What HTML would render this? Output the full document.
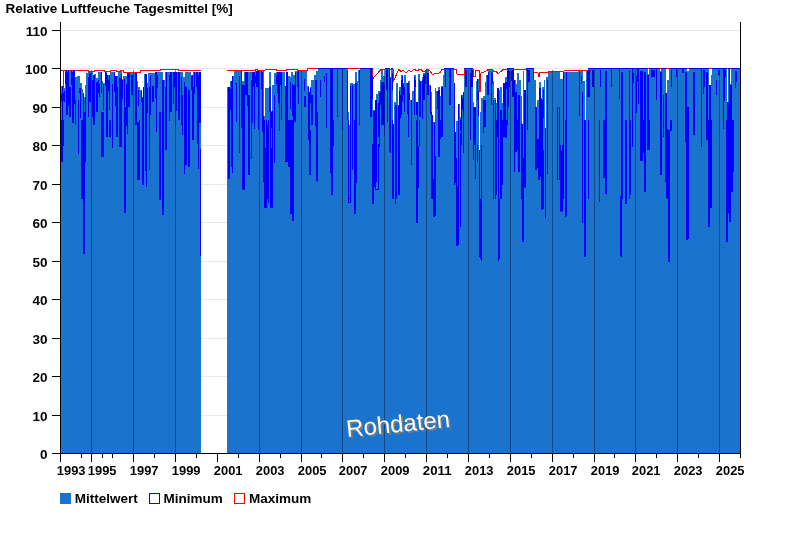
<!DOCTYPE html><html><head><meta charset="utf-8"><title>Relative Luftfeuche Tagesmittel</title>
<style>html,body{margin:0;padding:0;background:#fff}body{width:800px;height:550px;overflow:hidden}svg{display:block;will-change:transform}text{font-family:"Liberation Sans",Arial,sans-serif;font-weight:bold;font-size:13.5px;fill:#000}</style></head><body>
<svg width="800" height="550" viewBox="0 0 800 550">
<rect width="800" height="550" fill="#fff"/>
<line x1="61" x2="740" y1="415.5" y2="415.5" stroke="#e9e9e9" stroke-width="1"/>
<line x1="61" x2="740" y1="376.5" y2="376.5" stroke="#e9e9e9" stroke-width="1"/>
<line x1="61" x2="740" y1="338.5" y2="338.5" stroke="#e9e9e9" stroke-width="1"/>
<line x1="61" x2="740" y1="299.5" y2="299.5" stroke="#e9e9e9" stroke-width="1"/>
<line x1="61" x2="740" y1="261.5" y2="261.5" stroke="#e9e9e9" stroke-width="1"/>
<line x1="61" x2="740" y1="222.5" y2="222.5" stroke="#e9e9e9" stroke-width="1"/>
<line x1="61" x2="740" y1="184.5" y2="184.5" stroke="#e9e9e9" stroke-width="1"/>
<line x1="61" x2="740" y1="145.5" y2="145.5" stroke="#e9e9e9" stroke-width="1"/>
<line x1="61" x2="740" y1="107.5" y2="107.5" stroke="#e9e9e9" stroke-width="1"/>
<line x1="61" x2="740" y1="68.5" y2="68.5" stroke="#e9e9e9" stroke-width="1"/>
<line x1="61" x2="740" y1="30.5" y2="30.5" stroke="#e9e9e9" stroke-width="1"/>
<path d="M61 453V86H62V86H63V88H64V88H65V70H66V70H67V70H68V70H69V70H70V70H71V70H72V70H73V70H74V70H75V77H76V77H77V76H78V76H79V76H80V83H81V83H82V89H83V93H84V97H85V85H86V73H87V73H88V72H89V72H90V72H91V72H92V72H93V75H94V74H95V74H96V78H97V78H98V72H99V72H100V72H101V72H102V81H103V83H104V83H105V72H106V72H107V75H108V75H109V75H110V72H111V72H112V72H113V72H114V72H115V76H116V76H117V76H118V71H119V71H120V71H121V71H122V79H123V76H124V76H125V76H126V76H127V73H128V73H129V73H130V73H131V73H132V73H133V73H134V73H135V73H136V73H137V81H138V87H139V87H140V90H141V90H142V97H143V87H144V74H145V74H146V74H147V83H148V73H149V73H150V73H151V73H152V73H153V73H154V73H155V72H156V72H157V72H158V72H159V72H160V72H161V72H162V72H163V80H164V80H165V72H166V72H167V72H168V72H169V72H170V72H171V72H172V72H173V72H174V72H175V72H176V72H177V72H178V72H179V72H180V72H181V72H182V72H183V77H184V77H185V72H186V72H187V72H188V72H189V72H190V72H191V75H192V75H193V72H194V72H195V72H196V72H197V72H198V72H199V72H200V72H201V453Z" fill="#1a74ce" shape-rendering="crispEdges"/>
<path d="M227 453V87H228V87H229V87H230V81H231V81H232V76H233V76H234V71H235V71H236V71H237V71H238V71H239V71H240V71H241V71H242V81H243V81H244V72H245V72H246V72H247V72H248V72H249V72H250V72H251V72H252V72H253V72H254V72H255V71H256V71H257V71H258V71H259V71H260V71H261V71H262V71H263V71H264V116H265V88H266V88H267V88H268V88H269V72H270V72H271V111H272V85H273V85H274V73H275V73H276V72H277V72H278V72H279V72H280V72H281V72H282V72H283V72H284V72H285V86H286V72H287V72H288V76H289V76H290V77H291V72H292V72H293V75H294V75H295V71H296V71H297V71H298V71H299V71H300V71H301V71H302V71H303V71H304V71H305V71H306V71H307V86H308V86H309V92H310V87H311V80H312V80H313V80H314V75H315V75H316V71H317V71H318V68H319V68H320V68H321V68H322V68H323V68H324V68H325V68H326V68H327V68H328V68H329V68H330V68H331V68H332V68H333V68H334V68H335V68H336V68H337V68H338V68H339V68H340V68H341V68H342V68H343V68H344V68H345V68H346V68H347V68H348V112H349V125H350V83H351V83H352V83H353V84H354V84H355V72H356V72H357V81H358V70H359V70H360V68H361V68H362V68H363V68H364V68H365V68H366V68H367V68H368V68H369V68H370V68H371V68H372V68H373V110H374V110H375V100H376V94H377V94H378V91H379V91H380V80H381V70H382V70H383V76H384V76H385V68H386V68H387V68H388V68H389V68H390V77H391V68H392V68H393V124H394V102H395V102H396V83H397V83H398V105H399V87H400V87H401V75H402V75H403V83H404V75H405V75H406V83H407V83H408V81H409V81H410V100H411V100H412V91H413V91H414V75H415V75H416V102H417V102H418V74H419V74H420V81H421V81H422V77H423V73H424V73H425V70H426V70H427V70H428V70H429V85H430V85H431V92H432V115H433V122H434V122H435V88H436V91H437V91H438V87H439V87H440V96H441V86H442V86H443V75H444V68H445V68H446V68H447V68H448V68H449V68H450V68H451V68H452V68H453V68H454V83H455V132H456V121H457V121H458V104H459V104H460V117H461V95H462V95H463V92H464V68H465V68H466V68H467V68H468V68H469V68H470V68H471V68H472V68H473V102H474V107H475V107H476V81H477V79H478V79H479V150H480V112H481V98H482V98H483V96H484V96H485V82H486V75H487V75H488V70H489V70H490V70H491V70H492V70H493V81H494V98H495V98H496V103H497V88H498V88H499V90H500V87H501V87H502V103H503V83H504V83H505V77H506V77H507V68H508V68H509V68H510V68H511V68H512V68H513V68H514V80H515V80H516V84H517V73H518V73H519V80H520V80H521V96H522V124H523V71H524V90H525V90H526V68H527V68H528V68H529V68H530V68H531V68H532V68H533V68H534V80H535V80H536V107H537V100H538V100H539V82H540V82H541V98H542V87H543V87H544V80H545V128H546V77H547V77H548V72H549V72H550V71H551V71H552V71H553V71H554V71H555V71H556V71H557V71H558V71H559V71H560V79H561V79H562V79H563V72H564V72H565V72H566V72H567V72H568V72H569V72H570V72H571V72H572V72H573V72H574V72H575V72H576V72H577V72H578V71H579V71H580V71H581V71H582V71H583V81H584V81H585V120H586V71H587V71H588V68H589V68H590V68H591V68H592V68H593V68H594V68H595V68H596V68H597V68H598V68H599V68H600V68H601V68H602V68H603V68H604V68H605V68H606V68H607V68H608V68H609V68H610V68H611V68H612V68H613V68H614V68H615V68H616V68H617V68H618V68H619V68H620V68H621V68H622V68H623V68H624V68H625V68H626V68H627V68H628V68H629V68H630V68H631V68H632V68H633V68H634V68H635V68H636V68H637V68H638V68H639V68H640V68H641V68H642V68H643V68H644V68H645V68H646V68H647V68H648V74H649V68H650V68H651V68H652V68H653V68H654V68H655V68H656V68H657V68H658V68H659V68H660V71H661V68H662V68H663V68H664V68H665V68H666V93H667V80H668V80H669V68H670V68H671V68H672V68H673V68H674V68H675V68H676V68H677V68H678V68H679V68H680V68H681V68H682V68H683V68H684V68H685V68H686V68H687V71H688V71H689V68H690V68H691V68H692V68H693V68H694V68H695V68H696V68H697V68H698V68H699V68H700V68H701V68H702V68H703V68H704V68H705V68H706V68H707V68H708V68H709V85H710V85H711V75H712V68H713V68H714V68H715V68H716V68H717V68H718V68H719V68H720V68H721V68H722V68H723V68H724V68H725V68H726V68H727V102H728V68H729V68H730V84H731V68H732V68H733V68H734V68H735V68H736V68H737V68H738V68H739V68H740V453Z" fill="#1a74ce" shape-rendering="crispEdges"/>
<polyline points="61,70.5 63.5,70.5 63.5,88 63.5,70.5 65.5,70.5 65.5,78 65.5,70.5 88,70.5 88,71.5 94,71.5 94,70.5 104,70.5 104,71.5 110,71.5 110,70.5 116,70.5 116,71.5 120,71.5 120,70.5 123,70.5 123,72 140,72 140,70.5 160,70.5 160,69.5 178,69.5 178,70.5 201,70.5" fill="none" stroke="#ff0000" stroke-width="1" stroke-linejoin="miter" shape-rendering="crispEdges"/>
<polyline points="227,70.5 255,70.5 256,69.5 257,69.5 257,70.5 264,70.5 266,69.5 276,69.5 276,70.5 285,70.5 288,69.5 297,69.5 297,70.5 307,70.5 307,68.5 372.9,68.5 372.9,78.5 381.4,69 393,69 393,82 399,69 401,72 403,70 406,73 409,70 411,72 414,69 417,71 420,69 424,72 427,69 430,71 432.5,74.5 436,73 438,74 441,71.5 441.3,69.5 456.5,69.5 457,74 464,74 464,68.5 473,68.5 473.5,76 475,76 475,70 479.5,70 479.5,91.5 480.5,91.5 481,73 484,72 487.7,70 488,69.5 492.8,69.5 494,72 496,71 498,74 500,72 502.8,70 503,69.5 516,69.5 526,70 526,68.5 533.8,68.5 533.8,72.5 538,72.5 538.5,76.5 539.5,76.5 539.5,72.5 547.6,72.5 550,71 555,72 562.7,71.5 566,70.5 575,71 584,70 590,70.5 590,68.5 740,68.5" fill="none" stroke="#ff0000" stroke-width="1" stroke-linejoin="miter" shape-rendering="crispEdges"/>
<path d="M61 94h1v8h-1zM61 120h1v42h-1zM62 86h1v76h-1zM63 93h1v8h-1zM63 120h1v26h-1zM64 91h1v11h-1zM65 73h1v11h-1zM66 70h1v45h-1zM67 72h1v43h-1zM68 70h1v36h-1zM69 87h1v30h-1zM70 87h1v30h-1zM71 71h1v14h-1zM72 72h1v51h-1zM73 70h1v53h-1zM74 70h1v34h-1zM75 100h1v25h-1zM78 100h1v54h-1zM79 88h1v5h-1zM80 88h1v30h-1zM81 120h1v79h-1zM82 120h1v79h-1zM83 93h1v161h-1zM84 112h1v142h-1zM85 97h1v65h-1zM88 77h1v40h-1zM89 73h1v29h-1zM90 73h1v29h-1zM92 80h1v37h-1zM93 75h1v50h-1zM94 75h1v50h-1zM96 82h1v30h-1zM97 82h1v30h-1zM98 80h1v13h-1zM99 84h1v13h-1zM101 72h1v21h-1zM101 112h1v45h-1zM102 112h1v45h-1zM103 84h1v26h-1zM103 112h1v45h-1zM105 72h1v14h-1zM106 73h1v64h-1zM107 75h1v62h-1zM108 80h1v11h-1zM109 75h1v35h-1zM109 120h1v17h-1zM110 120h1v17h-1zM112 84h1v64h-1zM114 72h1v20h-1zM115 76h1v30h-1zM116 76h1v61h-1zM117 87h1v50h-1zM119 78h1v69h-1zM120 78h1v69h-1zM121 74h1v73h-1zM122 80h1v19h-1zM124 79h1v27h-1zM124 107h1v106h-1zM125 107h1v106h-1zM126 84h1v42h-1zM127 73h1v61h-1zM128 73h1v34h-1zM129 73h1v34h-1zM131 75h1v20h-1zM132 75h1v20h-1zM135 73h1v52h-1zM136 73h1v52h-1zM137 122h1v58h-1zM138 90h1v16h-1zM138 122h1v58h-1zM139 120h1v60h-1zM141 91h1v11h-1zM142 97h1v88h-1zM143 87h1v98h-1zM145 74h1v97h-1zM146 74h1v113h-1zM147 88h1v25h-1zM149 87h1v83h-1zM150 76h1v39h-1zM152 86h1v16h-1zM153 86h1v16h-1zM155 72h1v26h-1zM156 72h1v60h-1zM157 75h1v13h-1zM159 112h1v88h-1zM160 112h1v88h-1zM162 80h1v135h-1zM163 80h1v135h-1zM165 87h1v63h-1zM166 72h1v78h-1zM169 75h1v46h-1zM170 72h1v40h-1zM171 72h1v40h-1zM173 72h1v32h-1zM174 72h1v15h-1zM175 72h1v56h-1zM176 72h1v39h-1zM178 72h1v48h-1zM179 72h1v48h-1zM181 77h1v48h-1zM182 95h1v40h-1zM184 82h1v92h-1zM185 87h1v78h-1zM186 87h1v78h-1zM188 90h1v77h-1zM189 90h1v77h-1zM191 76h1v14h-1zM192 75h1v65h-1zM193 87h1v53h-1zM194 72h1v22h-1zM196 72h1v15h-1zM197 72h1v72h-1zM198 75h1v94h-1zM199 72h1v51h-1zM200 72h1v51h-1zM200 149h1v107h-1zM228 87h1v92h-1zM229 87h1v92h-1zM230 89h1v21h-1zM231 81h1v86h-1zM232 76h1v97h-1zM235 83h1v1h-1zM236 83h1v39h-1zM239 76h1v77h-1zM241 71h1v57h-1zM242 85h1v104h-1zM243 85h1v105h-1zM244 85h1v105h-1zM245 72h1v23h-1zM246 72h1v23h-1zM247 72h1v34h-1zM248 95h1v80h-1zM249 95h1v80h-1zM251 80h1v79h-1zM252 72h1v51h-1zM253 72h1v15h-1zM254 72h1v57h-1zM255 76h1v7h-1zM256 71h1v16h-1zM257 71h1v16h-1zM258 71h1v59h-1zM261 71h1v18h-1zM262 72h1v60h-1zM263 116h1v66h-1zM264 120h1v88h-1zM265 148h1v60h-1zM266 120h1v88h-1zM267 125h1v74h-1zM268 120h1v83h-1zM269 87h1v25h-1zM270 87h1v121h-1zM271 112h1v16h-1zM271 148h1v60h-1zM272 111h1v97h-1zM274 95h1v68h-1zM276 75h1v9h-1zM277 72h1v21h-1zM278 72h1v31h-1zM279 72h1v59h-1zM280 72h1v13h-1zM281 72h1v48h-1zM285 86h1v76h-1zM286 72h1v90h-1zM287 72h1v90h-1zM288 120h1v47h-1zM289 120h1v47h-1zM290 82h1v27h-1zM290 120h1v94h-1zM291 120h1v94h-1zM292 84h1v32h-1zM292 120h1v101h-1zM293 85h1v136h-1zM294 85h1v37h-1zM295 72h1v50h-1zM297 72h1v15h-1zM298 71h1v33h-1zM304 79h1v12h-1zM304 96h1v11h-1zM305 96h1v11h-1zM308 87h1v53h-1zM309 92h1v83h-1zM310 88h1v15h-1zM310 130h1v45h-1zM311 95h1v30h-1zM312 95h1v30h-1zM315 80h1v46h-1zM316 80h1v101h-1zM317 112h1v70h-1zM320 80h1v17h-1zM324 76h1v6h-1zM326 73h1v55h-1zM330 69h1v104h-1zM331 69h1v126h-1zM332 69h1v126h-1zM333 120h1v26h-1zM337 69h1v48h-1zM342 69h1v61h-1zM347 71h1v49h-1zM348 120h1v83h-1zM349 198h1v1h-1zM349 202h1v1h-1zM350 86h1v117h-1zM352 85h1v85h-1zM354 120h1v94h-1zM355 83h1v131h-1zM356 83h1v100h-1zM359 70h1v55h-1zM370 69h1v48h-1zM371 69h1v48h-1zM372 76h1v23h-1zM372 144h1v60h-1zM373 111h1v93h-1zM374 111h1v76h-1zM375 100h1v90h-1zM376 100h1v82h-1zM376 189h1v1h-1zM377 189h1v1h-1zM378 103h1v34h-1zM378 144h1v46h-1zM379 93h1v54h-1zM380 92h1v13h-1zM381 82h1v43h-1zM382 82h1v43h-1zM383 82h1v43h-1zM384 84h1v52h-1zM386 70h1v20h-1zM387 68h1v54h-1zM389 69h1v83h-1zM390 77h1v76h-1zM392 73h1v17h-1zM392 120h1v79h-1zM393 124h1v75h-1zM395 105h1v99h-1zM396 105h1v94h-1zM398 105h1v90h-1zM399 91h1v104h-1zM400 95h1v23h-1zM401 80h1v35h-1zM402 76h1v26h-1zM403 84h1v11h-1zM404 87h1v25h-1zM407 83h1v31h-1zM408 83h1v54h-1zM409 93h1v7h-1zM411 100h1v65h-1zM414 77h1v38h-1zM415 80h1v7h-1zM416 102h1v13h-1zM416 120h1v103h-1zM417 102h1v121h-1zM418 146h1v42h-1zM419 80h1v37h-1zM419 120h1v26h-1zM420 81h1v36h-1zM422 80h1v39h-1zM423 75h1v25h-1zM424 75h1v25h-1zM425 73h1v11h-1zM427 73h1v22h-1zM428 73h1v22h-1zM430 86h1v28h-1zM431 112h1v87h-1zM432 115h1v84h-1zM433 179h1v38h-1zM434 122h1v95h-1zM435 156h1v60h-1zM437 91h1v18h-1zM438 90h1v67h-1zM439 90h1v67h-1zM440 120h1v19h-1zM441 87h1v50h-1zM442 87h1v50h-1zM445 69h1v18h-1zM449 68h1v37h-1zM450 69h1v36h-1zM454 83h1v59h-1zM454 143h1v42h-1zM455 132h1v51h-1zM456 158h1v88h-1zM457 186h1v60h-1zM458 104h1v141h-1zM460 120h1v11h-1zM460 133h1v94h-1zM461 95h1v50h-1zM462 98h1v12h-1zM463 92h1v61h-1zM465 70h1v17h-1zM466 70h1v17h-1zM470 73h1v67h-1zM471 69h1v18h-1zM472 70h1v17h-1zM473 107h1v53h-1zM474 107h1v38h-1zM475 107h1v72h-1zM477 79h1v21h-1zM477 145h1v17h-1zM478 91h1v25h-1zM479 150h1v107h-1zM480 199h1v60h-1zM481 145h1v116h-1zM483 100h1v33h-1zM484 100h1v27h-1zM485 100h1v27h-1zM487 75h1v20h-1zM488 72h1v23h-1zM491 72h1v33h-1zM492 73h1v11h-1zM493 100h1v99h-1zM495 100h1v99h-1zM496 120h1v75h-1zM497 88h1v49h-1zM498 88h1v173h-1zM499 199h1v60h-1zM500 110h1v89h-1zM501 110h1v89h-1zM502 120h1v65h-1zM503 83h1v54h-1zM504 83h1v54h-1zM505 82h1v56h-1zM506 82h1v7h-1zM506 120h1v18h-1zM507 71h1v54h-1zM508 69h1v38h-1zM509 71h1v16h-1zM511 71h1v10h-1zM512 70h1v27h-1zM513 70h1v27h-1zM514 80h1v92h-1zM515 92h1v60h-1zM516 92h1v60h-1zM517 120h1v30h-1zM518 95h1v77h-1zM519 95h1v77h-1zM521 123h1v76h-1zM522 124h1v118h-1zM523 158h1v84h-1zM524 90h1v97h-1zM525 90h1v98h-1zM527 68h1v62h-1zM528 70h1v12h-1zM529 70h1v12h-1zM533 71h1v9h-1zM535 107h1v63h-1zM536 107h1v63h-1zM537 139h1v29h-1zM538 139h1v41h-1zM539 88h1v92h-1zM540 88h1v89h-1zM541 99h1v110h-1zM542 100h1v110h-1zM543 90h1v28h-1zM543 150h1v59h-1zM545 128h1v90h-1zM547 80h1v94h-1zM557 107h1v73h-1zM559 107h1v73h-1zM560 145h1v67h-1zM561 151h1v60h-1zM562 145h1v67h-1zM563 72h1v127h-1zM565 120h1v97h-1zM566 72h1v144h-1zM579 72h1v44h-1zM581 76h1v8h-1zM582 92h1v131h-1zM584 120h1v137h-1zM585 120h1v137h-1zM587 71h1v26h-1zM588 70h1v27h-1zM588 120h1v79h-1zM589 70h1v27h-1zM592 70h1v17h-1zM593 70h1v17h-1zM599 120h1v82h-1zM600 70h1v17h-1zM603 120h1v58h-1zM604 120h1v58h-1zM605 71h1v123h-1zM606 71h1v123h-1zM611 68h1v19h-1zM619 68h1v31h-1zM620 196h1v60h-1zM621 72h1v185h-1zM622 72h1v127h-1zM625 120h1v84h-1zM626 120h1v84h-1zM629 71h1v128h-1zM630 120h1v75h-1zM632 68h1v79h-1zM633 73h1v10h-1zM636 76h1v37h-1zM637 68h1v13h-1zM638 69h1v35h-1zM640 71h1v90h-1zM641 71h1v90h-1zM642 71h1v90h-1zM643 120h1v33h-1zM644 72h1v120h-1zM645 72h1v120h-1zM647 75h1v75h-1zM648 75h1v75h-1zM649 120h1v30h-1zM651 70h1v7h-1zM652 70h1v7h-1zM653 70h1v7h-1zM654 70h1v7h-1zM656 68h1v32h-1zM660 72h1v103h-1zM661 72h1v103h-1zM663 95h1v42h-1zM665 93h1v89h-1zM666 93h1v105h-1zM667 129h1v70h-1zM668 130h1v132h-1zM669 130h1v132h-1zM670 120h1v11h-1zM671 70h1v17h-1zM671 120h1v11h-1zM676 69h1v8h-1zM682 69h1v4h-1zM683 69h1v4h-1zM685 72h1v70h-1zM686 72h1v168h-1zM687 107h1v133h-1zM688 107h1v132h-1zM693 72h1v63h-1zM694 72h1v63h-1zM701 69h1v78h-1zM703 70h1v24h-1zM704 70h1v17h-1zM706 72h1v68h-1zM707 72h1v68h-1zM708 120h1v107h-1zM709 85h1v142h-1zM710 85h1v123h-1zM711 120h1v88h-1zM716 80h1v15h-1zM718 70h1v5h-1zM719 70h1v5h-1zM723 68h1v61h-1zM724 68h1v33h-1zM725 70h1v7h-1zM726 120h1v122h-1zM727 102h1v140h-1zM728 102h1v111h-1zM729 69h1v153h-1zM730 85h1v137h-1zM731 85h1v107h-1zM732 120h1v72h-1zM733 120h1v52h-1zM735 71h1v17h-1zM736 71h1v11h-1zM318 68h1v1h-1zM319 68h1v1h-1zM320 68h1v1h-1zM321 68h1v1h-1zM322 68h1v1h-1zM323 68h1v1h-1zM324 68h1v1h-1zM325 68h1v1h-1zM326 68h1v1h-1zM327 68h1v1h-1zM328 68h1v1h-1zM329 68h1v1h-1zM330 68h1v1h-1zM331 68h1v1h-1zM332 68h1v1h-1zM333 68h1v1h-1zM334 68h1v1h-1zM335 68h1v1h-1zM336 68h1v1h-1zM337 68h1v1h-1zM338 68h1v1h-1zM339 68h1v1h-1zM340 68h1v1h-1zM341 68h1v1h-1zM342 68h1v1h-1zM343 68h1v1h-1zM344 68h1v1h-1zM345 68h1v1h-1zM346 68h1v1h-1zM347 68h1v1h-1zM360 68h1v1h-1zM361 68h1v1h-1zM362 68h1v1h-1zM363 68h1v1h-1zM364 68h1v1h-1zM365 68h1v1h-1zM366 68h1v1h-1zM367 68h1v1h-1zM368 68h1v1h-1zM369 68h1v1h-1zM370 68h1v1h-1zM371 68h1v1h-1zM372 68h1v1h-1zM385 68h1v1h-1zM386 68h1v1h-1zM387 68h1v1h-1zM388 68h1v1h-1zM389 68h1v1h-1zM391 68h1v1h-1zM392 68h1v1h-1zM444 68h1v1h-1zM445 68h1v1h-1zM446 68h1v1h-1zM447 68h1v1h-1zM448 68h1v1h-1zM449 68h1v1h-1zM450 68h1v1h-1zM451 68h1v1h-1zM452 68h1v1h-1zM453 68h1v1h-1zM464 68h1v1h-1zM465 68h1v1h-1zM466 68h1v1h-1zM467 68h1v1h-1zM468 68h1v1h-1zM469 68h1v1h-1zM470 68h1v1h-1zM471 68h1v1h-1zM472 68h1v1h-1zM507 68h1v1h-1zM508 68h1v1h-1zM509 68h1v1h-1zM510 68h1v1h-1zM511 68h1v1h-1zM512 68h1v1h-1zM513 68h1v1h-1zM526 68h1v1h-1zM527 68h1v1h-1zM528 68h1v1h-1zM529 68h1v1h-1zM530 68h1v1h-1zM531 68h1v1h-1zM532 68h1v1h-1zM533 68h1v1h-1zM588 68h1v1h-1zM589 68h1v1h-1zM590 68h1v1h-1zM591 68h1v1h-1zM592 68h1v1h-1zM593 68h1v1h-1zM594 68h1v1h-1zM595 68h1v1h-1zM596 68h1v1h-1zM597 68h1v1h-1zM598 68h1v1h-1zM599 68h1v1h-1zM600 68h1v1h-1zM601 68h1v1h-1zM602 68h1v1h-1zM603 68h1v1h-1zM604 68h1v1h-1zM605 68h1v1h-1zM606 68h1v1h-1zM607 68h1v1h-1zM608 68h1v1h-1zM609 68h1v1h-1zM610 68h1v1h-1zM611 68h1v1h-1zM612 68h1v1h-1zM613 68h1v1h-1zM614 68h1v1h-1zM615 68h1v1h-1zM616 68h1v1h-1zM617 68h1v1h-1zM618 68h1v1h-1zM619 68h1v1h-1zM620 68h1v1h-1zM621 68h1v1h-1zM622 68h1v1h-1zM623 68h1v1h-1zM624 68h1v1h-1zM625 68h1v1h-1zM626 68h1v1h-1zM627 68h1v1h-1zM628 68h1v1h-1zM629 68h1v1h-1zM630 68h1v1h-1zM631 68h1v1h-1zM632 68h1v1h-1zM633 68h1v1h-1zM634 68h1v1h-1zM635 68h1v1h-1zM636 68h1v1h-1zM637 68h1v1h-1zM638 68h1v1h-1zM639 68h1v1h-1zM640 68h1v1h-1zM641 68h1v1h-1zM642 68h1v1h-1zM643 68h1v1h-1zM644 68h1v1h-1zM645 68h1v1h-1zM646 68h1v1h-1zM647 68h1v1h-1zM649 68h1v1h-1zM650 68h1v1h-1zM651 68h1v1h-1zM652 68h1v1h-1zM653 68h1v1h-1zM654 68h1v1h-1zM655 68h1v1h-1zM656 68h1v1h-1zM657 68h1v1h-1zM658 68h1v1h-1zM659 68h1v1h-1zM661 68h1v1h-1zM662 68h1v1h-1zM663 68h1v1h-1zM664 68h1v1h-1zM665 68h1v1h-1zM669 68h1v1h-1zM670 68h1v1h-1zM671 68h1v1h-1zM672 68h1v1h-1zM673 68h1v1h-1zM674 68h1v1h-1zM675 68h1v1h-1zM676 68h1v1h-1zM677 68h1v1h-1zM678 68h1v1h-1zM679 68h1v1h-1zM680 68h1v1h-1zM681 68h1v1h-1zM682 68h1v1h-1zM683 68h1v1h-1zM684 68h1v1h-1zM685 68h1v1h-1zM686 68h1v1h-1zM689 68h1v1h-1zM690 68h1v1h-1zM691 68h1v1h-1zM692 68h1v1h-1zM693 68h1v1h-1zM694 68h1v1h-1zM695 68h1v1h-1zM696 68h1v1h-1zM697 68h1v1h-1zM698 68h1v1h-1zM699 68h1v1h-1zM700 68h1v1h-1zM701 68h1v1h-1zM702 68h1v1h-1zM703 68h1v1h-1zM704 68h1v1h-1zM705 68h1v1h-1zM706 68h1v1h-1zM707 68h1v1h-1zM708 68h1v1h-1zM712 68h1v1h-1zM713 68h1v1h-1zM714 68h1v1h-1zM715 68h1v1h-1zM716 68h1v1h-1zM717 68h1v1h-1zM718 68h1v1h-1zM719 68h1v1h-1zM720 68h1v1h-1zM721 68h1v1h-1zM722 68h1v1h-1zM723 68h1v1h-1zM724 68h1v1h-1zM725 68h1v1h-1zM726 68h1v1h-1zM728 68h1v1h-1zM729 68h1v1h-1zM731 68h1v1h-1zM732 68h1v1h-1zM733 68h1v1h-1zM734 68h1v1h-1zM735 68h1v1h-1zM736 68h1v1h-1zM737 68h1v1h-1zM738 68h1v1h-1zM739 68h1v1h-1z" fill="#0000ff" shape-rendering="crispEdges"/>
<line x1="91.5" x2="91.5" y1="70" y2="453" stroke="#0b2f55" stroke-opacity="0.6" stroke-width="1"/>
<line x1="133.5" x2="133.5" y1="70" y2="453" stroke="#0b2f55" stroke-opacity="0.6" stroke-width="1"/>
<line x1="175.5" x2="175.5" y1="70" y2="453" stroke="#0b2f55" stroke-opacity="0.6" stroke-width="1"/>
<line x1="259.5" x2="259.5" y1="70" y2="453" stroke="#0b2f55" stroke-opacity="0.6" stroke-width="1"/>
<line x1="301.5" x2="301.5" y1="70" y2="453" stroke="#0b2f55" stroke-opacity="0.6" stroke-width="1"/>
<line x1="342.5" x2="342.5" y1="70" y2="453" stroke="#0b2f55" stroke-opacity="0.6" stroke-width="1"/>
<line x1="384.5" x2="384.5" y1="70" y2="453" stroke="#0b2f55" stroke-opacity="0.6" stroke-width="1"/>
<line x1="426.5" x2="426.5" y1="70" y2="453" stroke="#0b2f55" stroke-opacity="0.6" stroke-width="1"/>
<line x1="468.5" x2="468.5" y1="70" y2="453" stroke="#0b2f55" stroke-opacity="0.6" stroke-width="1"/>
<line x1="510.5" x2="510.5" y1="70" y2="453" stroke="#0b2f55" stroke-opacity="0.6" stroke-width="1"/>
<line x1="552.5" x2="552.5" y1="70" y2="453" stroke="#0b2f55" stroke-opacity="0.6" stroke-width="1"/>
<line x1="594.5" x2="594.5" y1="70" y2="453" stroke="#0b2f55" stroke-opacity="0.6" stroke-width="1"/>
<line x1="635.5" x2="635.5" y1="70" y2="453" stroke="#0b2f55" stroke-opacity="0.6" stroke-width="1"/>
<line x1="677.5" x2="677.5" y1="70" y2="453" stroke="#0b2f55" stroke-opacity="0.6" stroke-width="1"/>
<line x1="719.5" x2="719.5" y1="70" y2="453" stroke="#0b2f55" stroke-opacity="0.6" stroke-width="1"/>
<rect x="60" y="22" width="1" height="432" fill="#000"/>
<rect x="740" y="22" width="1" height="436" fill="#000"/>
<rect x="60" y="453" width="681" height="1" fill="#000"/>
<rect x="52" y="453" width="9" height="1" fill="#000"/>
<text x="47.6" y="458.8" text-anchor="end">0</text>
<rect x="52" y="415" width="9" height="1" fill="#000"/>
<text x="47.6" y="420.8" text-anchor="end">10</text>
<rect x="52" y="376" width="9" height="1" fill="#000"/>
<text x="47.6" y="381.8" text-anchor="end">20</text>
<rect x="52" y="338" width="9" height="1" fill="#000"/>
<text x="47.6" y="343.8" text-anchor="end">30</text>
<rect x="52" y="299" width="9" height="1" fill="#000"/>
<text x="47.6" y="304.8" text-anchor="end">40</text>
<rect x="52" y="261" width="9" height="1" fill="#000"/>
<text x="47.6" y="266.8" text-anchor="end">50</text>
<rect x="52" y="222" width="9" height="1" fill="#000"/>
<text x="47.6" y="227.8" text-anchor="end">60</text>
<rect x="52" y="184" width="9" height="1" fill="#000"/>
<text x="47.6" y="189.8" text-anchor="end">70</text>
<rect x="52" y="145" width="9" height="1" fill="#000"/>
<text x="47.6" y="150.8" text-anchor="end">80</text>
<rect x="52" y="107" width="9" height="1" fill="#000"/>
<text x="47.6" y="112.8" text-anchor="end">90</text>
<rect x="52" y="68" width="9" height="1" fill="#000"/>
<text x="47.6" y="73.8" text-anchor="end">100</text>
<rect x="52" y="30" width="9" height="1" fill="#000"/>
<text x="47.6" y="35.8" text-anchor="end">110</text>
<rect x="60" y="454" width="1" height="8" fill="#000"/>
<text x="56.8" y="474.8" textLength="28.7" lengthAdjust="spacingAndGlyphs">1993</text>
<rect x="91" y="454" width="1" height="8" fill="#000"/>
<text x="87.8" y="474.8" textLength="28.7" lengthAdjust="spacingAndGlyphs">1995</text>
<rect x="133" y="454" width="1" height="8" fill="#000"/>
<text x="129.8" y="474.8" textLength="28.7" lengthAdjust="spacingAndGlyphs">1997</text>
<rect x="175" y="454" width="1" height="8" fill="#000"/>
<text x="171.8" y="474.8" textLength="28.7" lengthAdjust="spacingAndGlyphs">1999</text>
<rect x="217" y="454" width="1" height="8" fill="#000"/>
<text x="213.8" y="474.8" textLength="28.7" lengthAdjust="spacingAndGlyphs">2001</text>
<rect x="259" y="454" width="1" height="8" fill="#000"/>
<text x="255.8" y="474.8" textLength="28.7" lengthAdjust="spacingAndGlyphs">2003</text>
<rect x="301" y="454" width="1" height="8" fill="#000"/>
<text x="297.8" y="474.8" textLength="28.7" lengthAdjust="spacingAndGlyphs">2005</text>
<rect x="342" y="454" width="1" height="8" fill="#000"/>
<text x="338.8" y="474.8" textLength="28.7" lengthAdjust="spacingAndGlyphs">2007</text>
<rect x="384" y="454" width="1" height="8" fill="#000"/>
<text x="380.8" y="474.8" textLength="28.7" lengthAdjust="spacingAndGlyphs">2009</text>
<rect x="426" y="454" width="1" height="8" fill="#000"/>
<text x="422.8" y="474.8" textLength="28.7" lengthAdjust="spacingAndGlyphs">2011</text>
<rect x="468" y="454" width="1" height="8" fill="#000"/>
<text x="464.8" y="474.8" textLength="28.7" lengthAdjust="spacingAndGlyphs">2013</text>
<rect x="510" y="454" width="1" height="8" fill="#000"/>
<text x="506.8" y="474.8" textLength="28.7" lengthAdjust="spacingAndGlyphs">2015</text>
<rect x="552" y="454" width="1" height="8" fill="#000"/>
<text x="548.8" y="474.8" textLength="28.7" lengthAdjust="spacingAndGlyphs">2017</text>
<rect x="594" y="454" width="1" height="8" fill="#000"/>
<text x="590.8" y="474.8" textLength="28.7" lengthAdjust="spacingAndGlyphs">2019</text>
<rect x="635" y="454" width="1" height="8" fill="#000"/>
<text x="631.8" y="474.8" textLength="28.7" lengthAdjust="spacingAndGlyphs">2021</text>
<rect x="677" y="454" width="1" height="8" fill="#000"/>
<text x="673.8" y="474.8" textLength="28.7" lengthAdjust="spacingAndGlyphs">2023</text>
<rect x="719" y="454" width="1" height="8" fill="#000"/>
<text x="715.8" y="474.8" textLength="28.7" lengthAdjust="spacingAndGlyphs">2025</text>
<rect x="81" y="454" width="1" height="4" fill="#000"/>
<rect x="102" y="454" width="1" height="4" fill="#000"/>
<rect x="112" y="454" width="1" height="4" fill="#000"/>
<rect x="154" y="454" width="1" height="4" fill="#000"/>
<rect x="196" y="454" width="1" height="4" fill="#000"/>
<rect x="238" y="454" width="1" height="4" fill="#000"/>
<rect x="280" y="454" width="1" height="4" fill="#000"/>
<rect x="321" y="454" width="1" height="4" fill="#000"/>
<rect x="363" y="454" width="1" height="4" fill="#000"/>
<rect x="405" y="454" width="1" height="4" fill="#000"/>
<rect x="447" y="454" width="1" height="4" fill="#000"/>
<rect x="489" y="454" width="1" height="4" fill="#000"/>
<rect x="531" y="454" width="1" height="4" fill="#000"/>
<rect x="573" y="454" width="1" height="4" fill="#000"/>
<rect x="614" y="454" width="1" height="4" fill="#000"/>
<rect x="656" y="454" width="1" height="4" fill="#000"/>
<rect x="698" y="454" width="1" height="4" fill="#000"/>
<text x="5.6" y="12.9">Relative Luftfeuche Tagesmittel [%]</text>
<rect x="60" y="493" width="11" height="11" fill="#1a74ce"/>
<text x="74.8" y="502.5">Mittelwert</text>
<rect x="149.5" y="493.5" width="10" height="10" fill="#fff" stroke="#0000ff" stroke-width="1"/>
<text x="163.6" y="502.5">Minimum</text>
<rect x="234.5" y="493.5" width="10" height="10" fill="#fff" stroke="#ff0000" stroke-width="1"/>
<text x="249" y="502.5">Maximum</text>
<g transform="translate(347,437) rotate(-5.5)"><text x="1.6" y="1.8" style="font-weight:normal;font-size:24px;fill:#7a7a7a">Rohdaten</text><text x="0" y="0" style="font-weight:normal;font-size:24px;fill:#fff">Rohdaten</text></g>
</svg></body></html>
